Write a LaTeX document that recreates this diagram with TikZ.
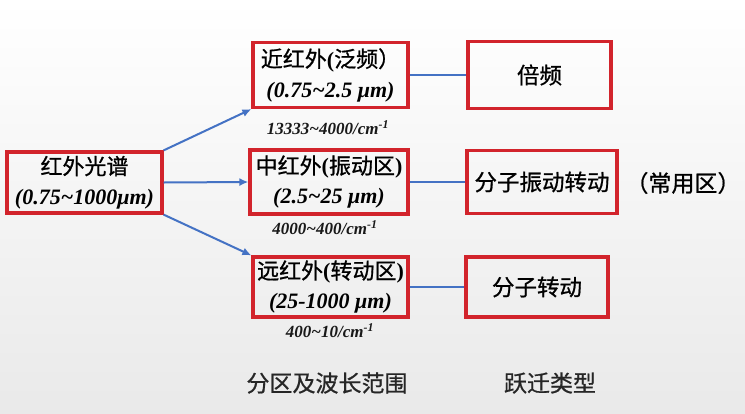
\documentclass[tikz,border=0pt]{standalone}
\usepackage{fontspec}
\usepackage{tikz}
\usetikzlibrary{arrows.meta}
\setmainfont{Liberation Serif}
\newfontfamily\cjk[FakeBold=0.8]{Noto Sans CJK SC}
\definecolor{boxred}{RGB}{210,36,44}
\definecolor{linkblue}{RGB}{68,114,196}
\newcommand\lparen{{\normalfont\bfseries(}}
\newcommand\rparen{{\normalfont\bfseries)}}

\begin{document}
\begin{tikzpicture}[x=1pt,y=-1pt,
        box/.style={draw=boxred,line width=3.2pt,inner sep=0pt,align=center,
                    font=\fontsize{22}{30}\selectfont},
        cjkbox/.style={box,font=\cjk\fontsize{22.5}{26}\selectfont},
        wn/.style={font=\fontsize{17}{20}\selectfont\bfseries\itshape,text=black!90},
        link/.style={linkblue,line width=2pt}]
        % Fondo
            \useasboundingbox (0,0) rectangle (745,413);
            \shade[top color=white,bottom color=gray!17] (0,0) rectangle (745,413);
        % Caja central
            \node[box,minimum width=155pt,minimum height=61pt] (spec) at (84.5,182.5)
                {{\cjk 红外光谱}\\{\bfseries\itshape (0.75\textasciitilde1000μm)}};
            % Zonas con coordenadas específicas
            \node[box,minimum width=155pt,minimum height=65pt] (near) at (330.5,75)
                {{\cjk 近红外\lparen 泛频）}\\{\bfseries\itshape (0.75\textasciitilde2.5 μm)}};
            \node[box,minimum width=158pt,minimum height=64pt] (mid) at (329,182)
                {{\cjk 中红外\lparen 振动区\rparen}\\{\bfseries\itshape (2.5\textasciitilde25 μm)}};
            \node[box,minimum width=155pt,minimum height=60pt] (far) at (330.5,287)
                {{\cjk 远红外\lparen 转动区\rparen}\\{\bfseries\itshape (25-1000 μm)}};
            % Números de onda
            \node[wn] (nearwn) at (328,128) {13333\textasciitilde4000/cm\textsuperscript{-1}};
            \node[wn] (midwn) at (325,228) {4000\textasciitilde400/cm\textsuperscript{-1}};
            \node[wn] (farwn) at (330,331) {400\textasciitilde10/cm\textsuperscript{-1}};
            % Tipos de transición
            \node[cjkbox,minimum width=143pt,minimum height=67pt] (overtone) at (539.5,75) {倍频};
            \node[cjkbox,minimum width=150pt,minimum height=63pt] (vibrot) at (542,182) {分子振动转动};
            \node[cjkbox,minimum width=142pt,minimum height=60pt] (rot) at (537,287) {分子转动};
            \node[font=\cjk\fontsize{23}{26}\selectfont] (common) at (683,183) {（常用区）};
            % Títulos
            \node[font=\cjk\fontsize{23}{26}\selectfont,text=black!85] (zone) at (327,383) {分区及波长范围};
            \node[font=\cjk\fontsize{23}{26}\selectfont,text=black!85] (trans) at (550,383) {跃迁类型};

            % Conectores
            \draw[link,-{Latex[length=9pt,width=8pt]}] (spec.north east) -- (near.south west);
            \draw[link,-{Latex[length=9pt,width=8pt]}] (spec.east) -- (mid.west);
            \draw[link,-{Latex[length=9pt,width=8pt]}] (spec.south east) -- (far.north west);
            \draw[link] (near.east) -- (overtone.west);
            \draw[link] (mid.east) -- (vibrot.west);
            \draw[link] (far.east) -- (rot.west);
        \end{tikzpicture}
\end{document}
